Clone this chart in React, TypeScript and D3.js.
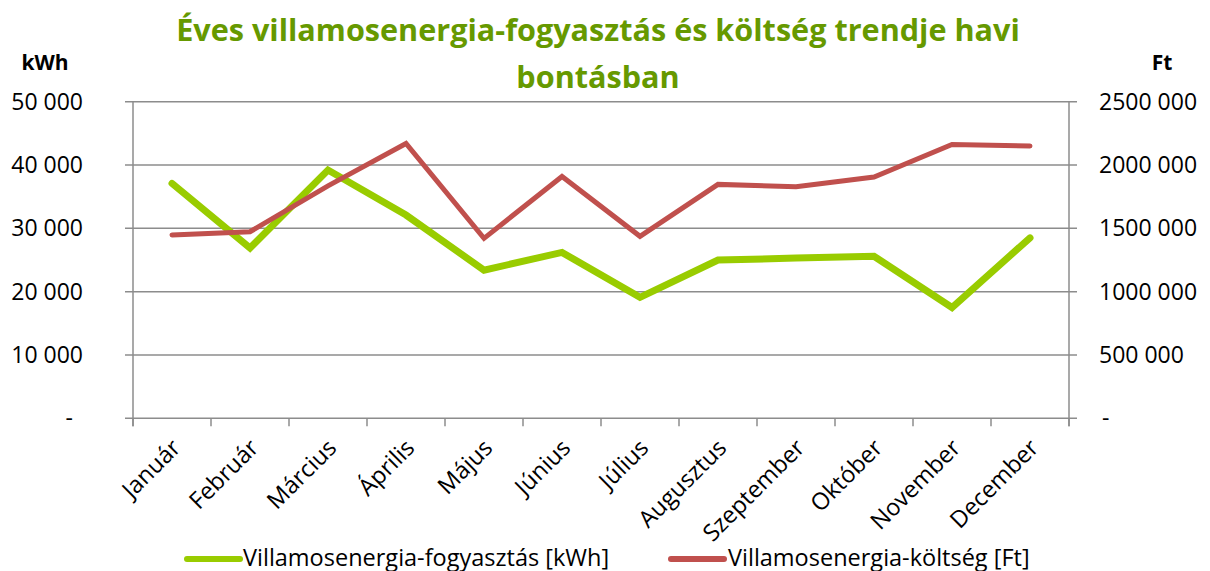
import React from "react";
import * as d3 from "d3";

const months = ["Január","Február","Március","Április","Május","Június","Július","Augusztus","Szeptember","Október","November","December"];
const kwh = [37100, 26900, 39200, 32100, 23400, 26200, 19100, 25000, 25300, 25600, 17500, 28500];
const cost = [1448000, 1473000, 1835000, 2170000, 1421000, 1910000, 1437000, 1847000, 1828000, 1905000, 2162000, 2150000];
const leftTicks = [0, 10000, 20000, 30000, 40000, 50000];
const rightTicks = [0, 500000, 1000000, 1500000, 2000000, 2500000];
const titleLines = ["Éves villamosenergia-fogyasztás és költség trendje havi", "bontásban"];
const legendItems = ["Villamosenergia-fogyasztás [kWh]", "Villamosenergia-költség [Ft]"];

const W = 1210, H = 571;
const FONT = "'Open Sans', sans-serif";
const GREEN = "#99CC00";
const RED = "#C0504D";
const GRID = "#8C8C8C";

function fmt(v: number): string {
  const s = String(v);
  return s.slice(0, s.length - 3) + " " + s.slice(-3);
}

export default function App() {
  const left = 133, right = 1069, top = 101.7, bottom = 418.3;
  const x = d3.scaleBand<string>().domain(months).range([left, right]);
  const yL = d3.scaleLinear().domain([0, 50000]).range([bottom, top]);
  const yR = d3.scaleLinear().domain([0, 2500000]).range([bottom, top]);
  const cx = (m: string) => (x(m) as number) + x.bandwidth() / 2;
  const lineL = d3.line<number>().x((_, i) => cx(months[i])).y((d) => yL(d));
  const lineR = d3.line<number>().x((_, i) => cx(months[i])).y((d) => yR(d));
  const boundaries = d3.range(months.length + 1).map((i) => left + i * x.bandwidth());

  return (
    <svg width={W} height={H} style={{ position: "absolute", left: 0, top: 0, background: "#fff" }} fontFamily={FONT}>
      {titleLines.map((t, i) => (
        <text key={i} x={598} y={41 + i * 47} textAnchor="middle" fontSize={30.6} fontWeight="bold" fill="#669900">{t}</text>
      ))}
      <text x={45} y={70} textAnchor="middle" fontSize={21} fontWeight="bold" fill="#000">kWh</text>
      <text x={1162} y={70} textAnchor="middle" fontSize={21} fontWeight="bold" fill="#000">Ft</text>

      {leftTicks.map((t) => (
        <g key={"g" + t}>
          <line x1={125} x2={1077} y1={yL(t)} y2={yL(t)} stroke={GRID} strokeWidth={1.5} />
          <text x={t === 0 ? 73 : 83} y={yL(t) + 8} textAnchor="end" fontSize={23} fill="#000">{t === 0 ? "-" : fmt(t)}</text>
        </g>
      ))}
      {rightTicks.map((t) => (
        <text key={"r" + t} x={t === 0 ? 1102 : 1099} y={yR(t) + 8} textAnchor="start" fontSize={23} fill="#000">{t === 0 ? "-" : fmt(t)}</text>
      ))}
      <line x1={left} x2={left} y1={top} y2={bottom + 8} stroke={GRID} strokeWidth={1.5} />
      <line x1={right} x2={right} y1={top} y2={bottom + 8} stroke={GRID} strokeWidth={1.5} />
      {boundaries.map((b, i) => (
        <line key={"t" + i} x1={b} x2={b} y1={bottom} y2={bottom + 8} stroke={GRID} strokeWidth={1.5} />
      ))}
      {months.map((m) => (
        <text key={m} transform={`translate(${cx(m) + 10},${bottom + 31}) rotate(-45)`} textAnchor="end" fontSize={23.5} fill="#000">{m}</text>
      ))}

      <path d={lineL(kwh) || ""} fill="none" stroke={GREEN} strokeWidth={7} strokeLinejoin="miter" strokeLinecap="round" />
      <path d={lineR(cost) || ""} fill="none" stroke={RED} strokeWidth={5} strokeLinejoin="miter" strokeLinecap="round" />

      <line x1={187} x2={240} y1={559} y2={559} stroke={GREEN} strokeWidth={6} strokeLinecap="round" />
      <text x={243} y={565.5} fontSize={23.5} fill="#000">{legendItems[0]}</text>
      <line x1={671} x2={724} y1={559} y2={559} stroke={RED} strokeWidth={6} strokeLinecap="round" />
      <text x={728} y={565.5} fontSize={23.5} fill="#000">{legendItems[1]}</text>
    </svg>
  );
}
